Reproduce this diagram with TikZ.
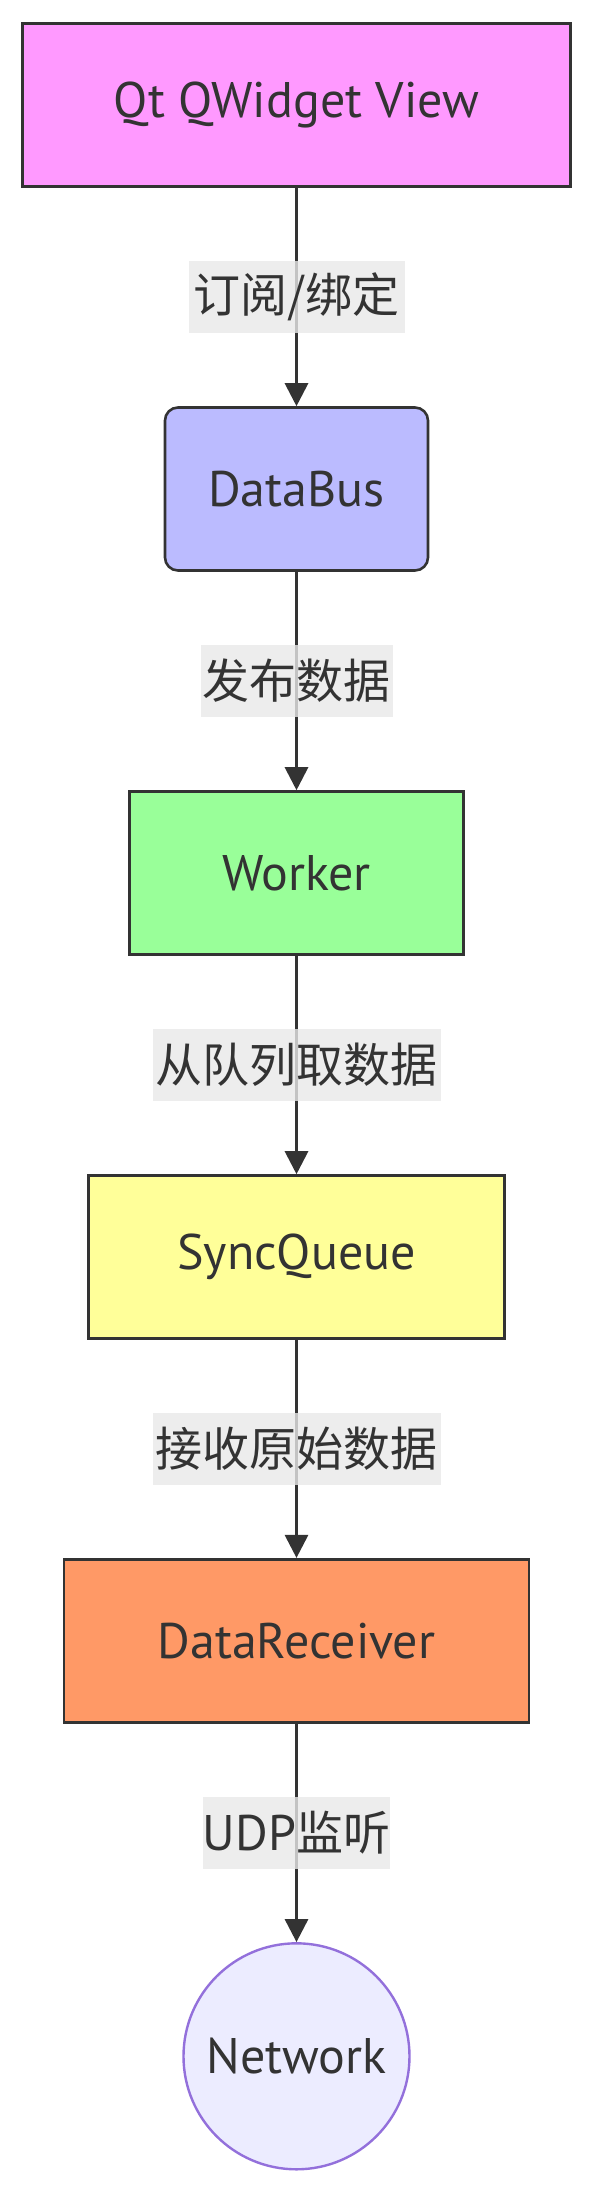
\documentclass[tikz,border=0pt]{standalone}
\usepackage{fontspec}
\setmainfont{PT Sans}
\newfontfamily\cjk{Noto Sans CJK SC}
\usetikzlibrary{arrows.meta}
\definecolor{txt}{HTML}{333333}
\definecolor{edgec}{HTML}{333333}
\definecolor{cA}{HTML}{FF99FF}
\definecolor{cB}{HTML}{BBBBFF}
\definecolor{cC}{HTML}{99FF99}
\definecolor{cD}{HTML}{FFFF99}
\definecolor{cE}{HTML}{FF9966}
\definecolor{cF}{HTML}{ECECFF}
\definecolor{cFs}{HTML}{9370DB}
\definecolor{lblbg}{HTML}{E8E8E8}
\tikzset{
  box/.style={draw=edgec, line width=2.6pt, rectangle, inner sep=0pt, text=txt,
    font=\fontsize{50}{54}\selectfont, align=center},
  roundbox/.style={box, rounded corners=13pt},
  circ/.style={draw=cFs, line width=2.4pt, circle, fill=cF, inner sep=0pt,
    minimum size=226pt, text=txt, font=\fontsize{50}{54}\selectfont},
  arr/.style={draw=edgec, line width=3pt, -{Triangle[length=23pt,width=23pt]}},
  lbl/.style={fill=lblbg, fill opacity=0.8, text opacity=1, text=txt, inner sep=0pt,
    minimum height=72pt, font=\fontsize{47}{50}\selectfont\cjk}
}
\begin{document}
\begin{tikzpicture}[x=1pt,y=1pt]
\useasboundingbox (0,0) rectangle (593,-2193);
\node[box, fill=cA, minimum width=548pt, minimum height=163pt] (A) at (296.5,-105) {Qt QWidget View};
\node[roundbox, fill=cB, minimum width=263pt, minimum height=163pt] (B) at (296.5,-489) {DataBus};
\node[box, fill=cC, minimum width=334pt, minimum height=163pt] (C) at (296.5,-873) {Worker};
\node[box, fill=cD, minimum width=416pt, minimum height=163pt] (D) at (296.5,-1257) {SyncQueue};
\node[box, fill=cE, minimum width=465pt, minimum height=163pt] (E) at (296.5,-1640.7) {DataReceiver};
\node[circ] (F) at (296.5,-2056.3) {Network};
\draw[arr] (A) -- (B) node[lbl, midway, minimum width=216pt] (L1) {订阅/绑定};
\draw[arr] (B) -- (C) node[lbl, midway, minimum width=192pt] (L2) {发布数据};
\draw[arr] (C) -- (D) node[lbl, midway, minimum width=288pt] (L3) {从队列取数据};
\draw[arr] (D) -- (E) node[lbl, midway, minimum width=288pt] (L4) {接收原始数据};
\draw[arr] (E) -- (F) node[lbl, midway, minimum width=183pt] (L5) {{\rmfamily\fontsize{50}{54}\selectfont UDP}监听};
\end{tikzpicture}
\end{document}
